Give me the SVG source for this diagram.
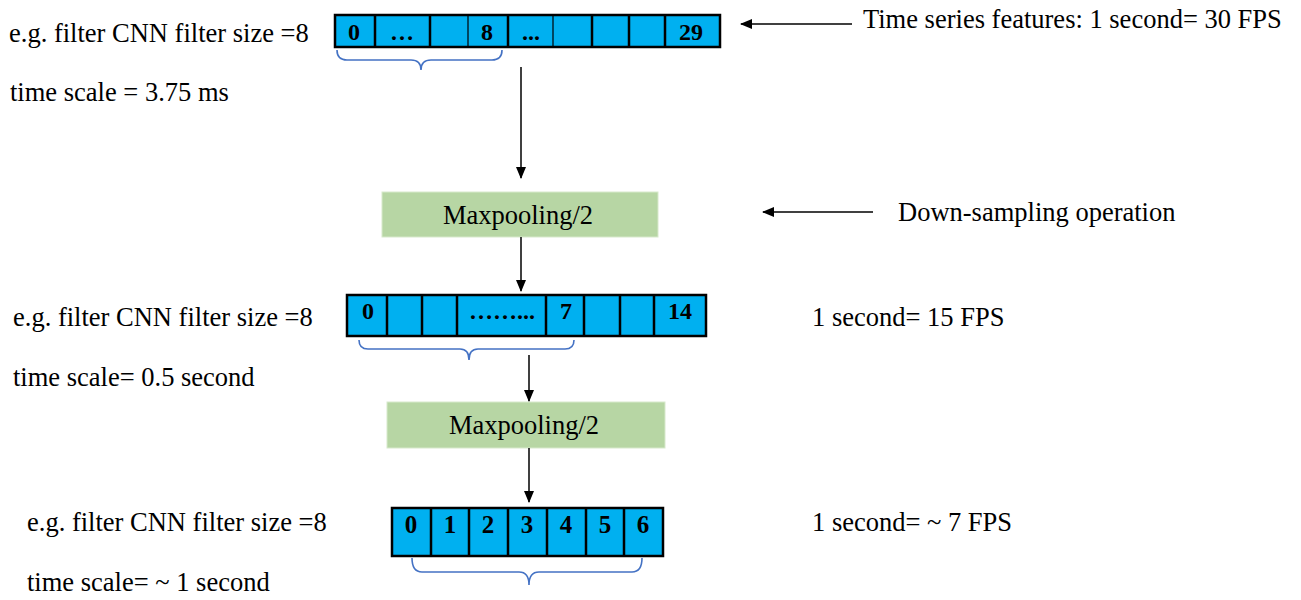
<svg xmlns="http://www.w3.org/2000/svg" width="1301" height="600" viewBox="0 0 1301 600">
<defs>
<marker id="ah" markerWidth="12" markerHeight="10" refX="11" refY="5" orient="auto" markerUnits="userSpaceOnUse">
<path d="M0,0 L12,5 L0,10 Z" fill="#000"/>
</marker>
<style>
.t{font-family:"Liberation Serif","Times New Roman",serif;font-size:26.5px;fill:#000}
.n{font-family:"Liberation Serif","Times New Roman",serif;font-weight:bold;fill:#000;text-anchor:middle}
.cell{fill:#00B0F0;stroke:#000;stroke-width:2.5}
.pool{fill:#B7D6A4;stroke:#D7E9CC;stroke-width:1}
.br{fill:none;stroke:#4472C4;stroke-width:1.6}
.c{stroke:#000;stroke-width:1.5;fill:none;marker-end:url(#ah)}
</style>
</defs>
<rect width="1301" height="600" fill="#fff"/>

<g id="labels">
<text class="t" x="9" y="42">e.g. filter CNN filter size =8</text>
<text class="t" x="10" y="101">time scale = 3.75 ms</text>
<text class="t" x="863" y="28">Time series features: 1 second= 30 FPS</text>
<text class="t" x="898" y="221">Down-sampling operation</text>
<text class="t" x="13" y="326">e.g. filter CNN filter size =8</text>
<text class="t" x="13" y="386">time scale= 0.5 second</text>
<text class="t" x="812" y="326">1 second= 15 FPS</text>
<text class="t" x="27" y="531">e.g. filter CNN filter size =8</text>
<text class="t" x="27" y="591">time scale= ~ 1 second</text>
<text class="t" x="812" y="531">1 second= ~ 7 FPS</text>
</g>

<g id="row1">
<rect class="cell" x="335" y="15" width="385" height="32"/>
<g stroke="#000" stroke-width="2.5">
<line x1="375" y1="15" x2="375" y2="47"/>
<line x1="430" y1="15" x2="430" y2="47"/>
<line x1="468" y1="15" x2="468" y2="47" stroke-width="1.2"/>
<line x1="508" y1="15" x2="508" y2="47"/>
<line x1="553" y1="15" x2="553" y2="47" stroke-width="1.2"/>
<line x1="592" y1="15" x2="592" y2="47"/>
<line x1="629" y1="15" x2="629" y2="47"/>
<line x1="665" y1="15" x2="665" y2="47"/>
</g>
<g class="n" font-size="24">
<text x="354" y="40">0</text>
<text x="402" y="40">…</text>
<text x="487" y="40">8</text>
<text x="531" y="40">...</text>
<text x="691" y="40">29</text>
</g>
<path class="br" d="M337,50 Q337,60 347,60 L411,60 Q421,60 421,70 Q421,60 431,60 L492,60 Q502,60 502,50"/>
</g>

<g id="pool1">
<rect class="pool" x="382" y="192" width="276" height="45"/>
<text class="t" x="518" y="224" text-anchor="middle">Maxpooling/2</text>
</g>

<g id="row2">
<rect class="cell" x="347" y="295" width="359" height="41"/>
<g stroke="#000" stroke-width="2.5">
<line x1="387" y1="295" x2="387" y2="336"/>
<line x1="422" y1="295" x2="422" y2="336"/>
<line x1="457" y1="295" x2="457" y2="336"/>
<line x1="546" y1="295" x2="546" y2="336"/>
<line x1="584" y1="295" x2="584" y2="336"/>
<line x1="620" y1="295" x2="620" y2="336"/>
<line x1="654" y1="295" x2="654" y2="336"/>
</g>
<g class="n" font-size="24">
<text x="368" y="319">0</text>
<text x="502" y="319">……...</text>
<text x="566" y="319">7</text>
<text x="680" y="319">14</text>
</g>
<path class="br" d="M359,340 Q359,349 368,349 L460,349 Q469,349 469,360 Q469,349 478,349 L565,349 Q574,349 574,340"/>
</g>

<g id="pool2">
<rect class="pool" x="387" y="402" width="278" height="46"/>
<text class="t" x="524" y="434" text-anchor="middle">Maxpooling/2</text>
</g>

<g id="row3">
<rect class="cell" x="392" y="508" width="271" height="48"/>
<g stroke="#000" stroke-width="2.5">
<line x1="431" y1="508" x2="431" y2="556"/>
<line x1="469" y1="508" x2="469" y2="556"/>
<line x1="508" y1="508" x2="508" y2="556"/>
<line x1="547" y1="508" x2="547" y2="556"/>
<line x1="586" y1="508" x2="586" y2="556"/>
<line x1="624" y1="508" x2="624" y2="556"/>
</g>
<g class="n" font-size="25">
<text x="411" y="533">0</text>
<text x="450" y="533">1</text>
<text x="488" y="533">2</text>
<text x="527" y="533">3</text>
<text x="566" y="533">4</text>
<text x="605" y="533">5</text>
<text x="643" y="533">6</text>
</g>
<path class="br" d="M412,558 Q412,572 422,572 L519,572 Q529,572 529,585 Q529,572 539,572 L632,572 Q642,572 642,558"/>
</g>

<g id="connectors">
<line class="c" x1="521" y1="67" x2="521" y2="178"/>
<line class="c" x1="521" y1="237" x2="521" y2="291"/>
<line class="c" x1="529" y1="355" x2="529" y2="401"/>
<line class="c" x1="529" y1="448" x2="529" y2="502"/>
<line class="c" x1="852" y1="24" x2="741" y2="24"/>
<line class="c" x1="873" y1="212" x2="763" y2="212"/>
</g>
</svg>
